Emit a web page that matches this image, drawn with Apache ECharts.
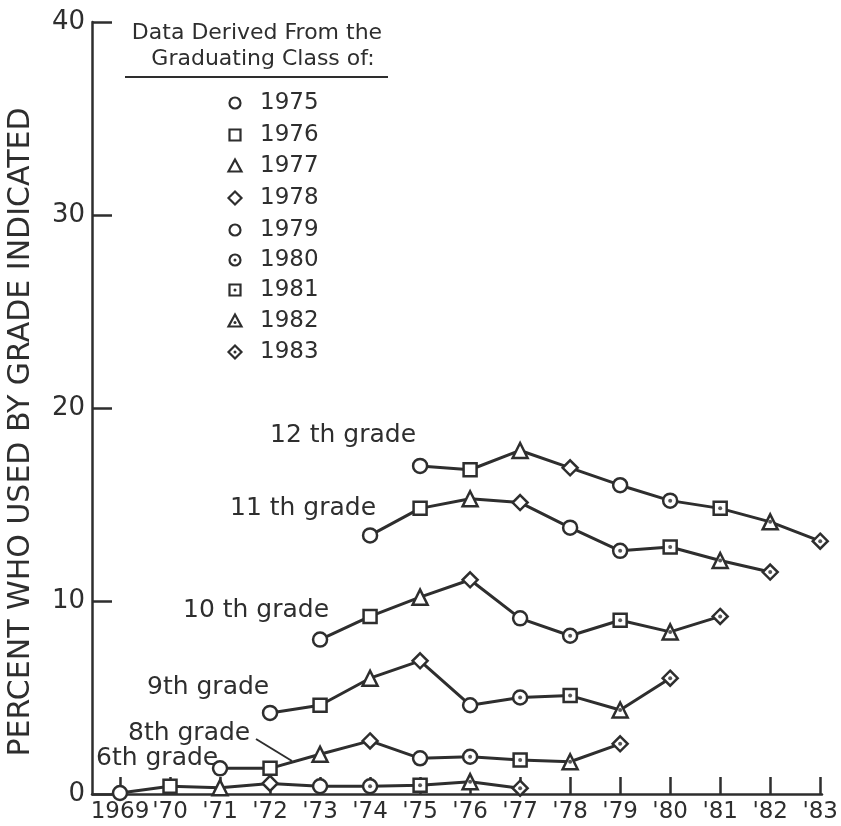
<!DOCTYPE html>
<html>
<head>
<meta charset="utf-8">
<script src="https://cdn.jsdelivr.net/npm/echarts@6/dist/echarts.min.js"></script>
<style>
html,body{margin:0;padding:0;background:#ffffff;}
#chart{width:841px;height:826px;}
</style>
</head>
<body>
<div id="chart"></div>
<script>
// ---- data ----
const xTickYears = [1969,1970,1971,1972,1973,1974,1975,1976,1977,1978,1979,1980,1981,1982,1983];
const xTickLabels = ['1969',"'70","'71","'72","'73","'74","'75","'76","'77","'78","'79","'80","'81","'82","'83"];
const yTicks = [0,10,20,30,40];

const gradeNames = ['12 th grade','11 th grade','10 th grade','9th grade','8th grade','6th grade'];

const g12Years = [1975,1976,1977,1978,1979,1980,1981,1982,1983];
const g12Values = [17.0,16.8,17.8,16.9,16.0,15.2,14.8,14.1,13.1];
const g11Years = [1974,1975,1976,1977,1978,1979,1980,1981,1982];
const g11Values = [13.4,14.8,15.3,15.1,13.8,12.6,12.8,12.1,11.5];
const g10Years = [1973,1974,1975,1976,1977,1978,1979,1980,1981];
const g10Values = [8.0,9.2,10.2,11.1,9.1,8.2,9.0,8.4,9.2];
const g9Years = [1972,1973,1974,1975,1976,1977,1978,1979,1980];
const g9Values = [4.2,4.6,6.0,6.9,4.6,5.0,5.1,4.35,6.0];
const g8Years = [1971,1972,1973,1974,1975,1976,1977,1978,1979];
const g8Values = [1.33,1.33,2.06,2.75,1.85,1.93,1.76,1.67,2.6];
const g6Years = [1969,1970,1971,1972,1973,1974,1975,1976,1977];
const g6Values = [0.05,0.4,0.33,0.55,0.4,0.4,0.45,0.64,0.3];

// graduating classes (index in each grade series = class index)
const classYears = ['1975','1976','1977','1978','1979','1980','1981','1982','1983'];
const classSymbols = ['circle','rect','triangle','diamond','circle','circle','rect','triangle','diamond'];
const classDotted = [false,false,false,false,false,true,true,true,true];

// ---- styles ----
const INK = '#2e2e2e';
const FONT = 'DejaVu Sans';
const symSize = {circle: 14, rect: 13, triangle: 15, diamond: 15};

const grades = [
  {years: g12Years, values: g12Values},
  {years: g11Years, values: g11Values},
  {years: g10Years, values: g10Values},
  {years: g9Years, values: g9Values},
  {years: g8Years, values: g8Values},
  {years: g6Years, values: g6Values}
];

const series = [];
const dotData = [];
grades.forEach((g, gi) => {
  const data = g.values.map((v, i) => {
    const s = classSymbols[i];
    if (classDotted[i]) dotData.push([g.years[i], v]);
    return {value: [g.years[i], v], symbol: s, symbolSize: symSize[s]};
  });
  series.push({
    name: gradeNames[gi],
    type: 'line',
    xAxisIndex: 1, yAxisIndex: 1,
    data: data,
    showAllSymbol: true,
    lineStyle: {color: INK, width: 3},
    itemStyle: {color: '#ffffff', borderColor: INK, borderWidth: 2.5},
    z: 3,
    animation: false,
    silent: true
  });
});
series.push({
  type: 'scatter',
  xAxisIndex: 1, yAxisIndex: 1,
  data: dotData,
  symbol: 'circle',
  symbolSize: 4,
  itemStyle: {color: INK},
  z: 5,
  animation: false,
  silent: true
});

// legend graphics
const legendX = 235, legendTextX = 260;
const legendRows = [103,135,166,198,230,260,290,321,352];
const legendEls = [];
classYears.forEach((cy, i) => {
  const y = legendRows[i];
  const s = classSymbols[i];
  const st = {fill: '#ffffff', stroke: INK, lineWidth: 2.2};
  if (s === 'circle') legendEls.push({type: 'circle', shape: {cx: legendX, cy: y, r: 5.5}, style: st});
  if (s === 'rect') legendEls.push({type: 'rect', shape: {x: legendX - 5.5, y: y - 5.5, width: 11, height: 11}, style: st});
  if (s === 'triangle') legendEls.push({type: 'polygon', shape: {points: [[legendX, y - 6.5], [legendX + 6.5, y + 5.5], [legendX - 6.5, y + 5.5]]}, style: st});
  if (s === 'diamond') legendEls.push({type: 'polygon', shape: {points: [[legendX, y - 6.5], [legendX + 6.5, y], [legendX, y + 6.5], [legendX - 6.5, y]]}, style: st});
  if (classDotted[i]) legendEls.push({type: 'circle', shape: {cx: legendX, cy: y + (s === 'triangle' ? 1.5 : 0), r: 1.5}, style: {fill: INK}});
  legendEls.push({type: 'text', x: legendTextX, y: y, style: {text: cy, font: '23px "' + FONT + '"', fill: INK, textVerticalAlign: 'middle', textAlign: 'left'}});
});

const gradeLabelPos = [
  {x: 270, y: 435}, {x: 230, y: 508}, {x: 183, y: 610},
  {x: 147, y: 687}, {x: 128, y: 733}, {x: 96, y: 758}
];
const gradeLabelEls = gradeNames.map((n, i) => ({
  type: 'text', x: gradeLabelPos[i].x, y: gradeLabelPos[i].y,
  style: {text: n, font: '25px "' + FONT + '"', fill: INK, textVerticalAlign: 'middle', textAlign: 'left'}
}));

const chart = echarts.init(document.getElementById('chart'), null, {renderer: 'canvas'});
chart.setOption({
  backgroundColor: '#ffffff',
  animation: false,
  textStyle: {fontFamily: FONT, color: INK},
  grid: [
    {left: 92, right: 19, top: 22, bottom: 32},
    {left: 120, right: 19, top: 22, bottom: 32}
  ],
  xAxis: [
    {gridIndex: 0, type: 'value', min: 0, max: 1,
     axisLine: {show: true, lineStyle: {color: INK, width: 2.5}},
     axisTick: {show: false}, axisLabel: {show: false}, splitLine: {show: false}},
    {gridIndex: 1, type: 'value', min: 1969, max: 1983, interval: 1,
     axisLine: {show: false},
     axisTick: {show: true, inside: true, length: 17, lineStyle: {color: INK, width: 2.5}},
     axisLabel: {show: true, fontSize: 23, fontFamily: FONT, color: INK, margin: 7,
       formatter: v => { const k = xTickYears.indexOf(v); return k >= 0 ? xTickLabels[k] : ''; }},
     splitLine: {show: false}}
  ],
  yAxis: [
    {gridIndex: 0, type: 'value', min: yTicks[0], max: yTicks[yTicks.length - 1], interval: 10,
     axisLine: {show: true, lineStyle: {color: INK, width: 2.5}},
     axisTick: {show: true, inside: true, length: 20, lineStyle: {color: INK, width: 2.5}},
     axisLabel: {show: true, fontSize: 26, fontFamily: FONT, color: INK, margin: 7},
     splitLine: {show: false}},
    {gridIndex: 1, type: 'value', min: 0, max: 40, show: false}
  ],
  graphic: [
    {type: 'text', x: 21, y: 432, rotation: Math.PI / 2,
     style: {text: 'PERCENT WHO USED BY GRADE INDICATED', font: '30px "' + FONT + '"', fill: INK, textAlign: 'center', textVerticalAlign: 'middle'}},
    {type: 'text', x: 257, y: 33, style: {text: 'Data Derived From the', font: '22px "' + FONT + '"', fill: INK, textAlign: 'center', textVerticalAlign: 'middle'}},
    {type: 'text', x: 263, y: 59, style: {text: 'Graduating Class of:', font: '22px "' + FONT + '"', fill: INK, textAlign: 'center', textVerticalAlign: 'middle'}},
    {type: 'line', shape: {x1: 125, y1: 77, x2: 388, y2: 77}, style: {stroke: INK, lineWidth: 2}},
    {type: 'line', shape: {x1: 256, y1: 739, x2: 292, y2: 761}, style: {stroke: INK, lineWidth: 2}}
  ].concat(legendEls, gradeLabelEls),
  series: series
});
</script>
</body>
</html>
